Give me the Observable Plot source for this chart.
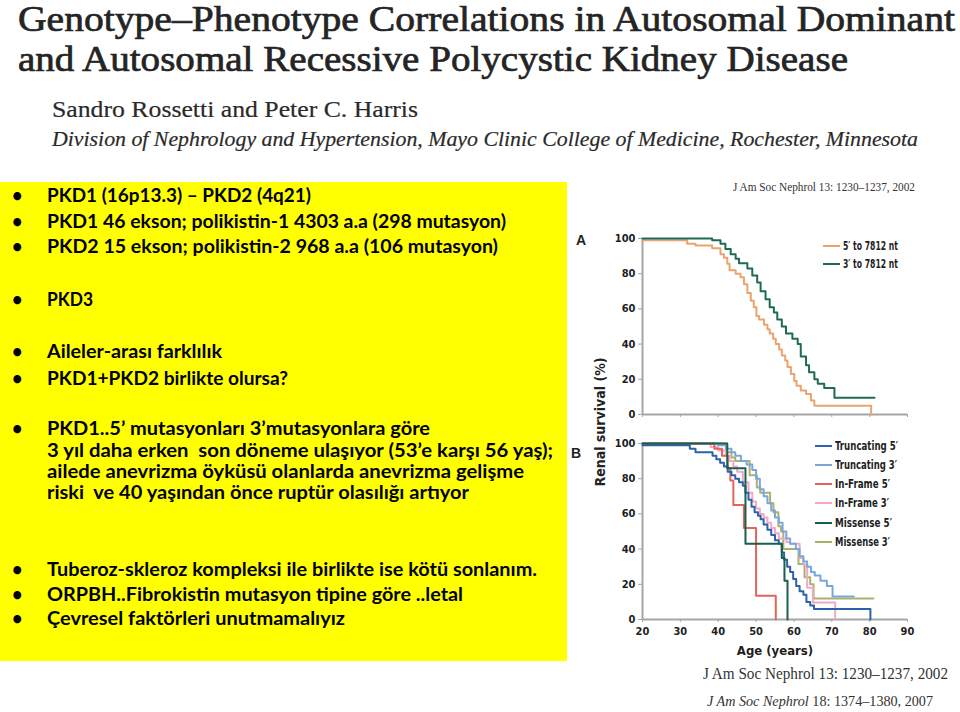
<!DOCTYPE html>
<html>
<head>
<meta charset="utf-8">
<script src="https://cdn.jsdelivr.net/npm/d3@7"></script>
<script src="https://cdn.jsdelivr.net/npm/@observablehq/plot@0.6"></script>
<style>
  body { margin: 0; background: #fff; }
  #page { position: relative; width: 960px; height: 712px; overflow: hidden; background: #fff; }
  .abs { position: absolute; white-space: nowrap; transform-origin: 0 0; }
  .plotbox { position: absolute; }
  .legrow { position: absolute; white-space: nowrap; font-family: "Liberation Sans Narrow", "DejaVu Sans Condensed", "Liberation Sans", sans-serif; font-weight: bold; font-size: 12px; color: #1e1e1e; }
  .legline { position: absolute; height: 2px; }
  #plotB g[aria-label="x-axis label"] text { font-size: 13px; }
</style>
</head>
<body>
<div id="page"></div>
<script>
// ---------------- data ----------------
const titleLines = ["Genotype–Phenotype Correlations in Autosomal Dominant", "and Autosomal Recessive Polycystic Kidney Disease"];
const authors = "Sandro Rossetti and Peter C. Harris";
const affiliation = "Division of Nephrology and Hypertension, Mayo Clinic College of Medicine, Rochester, Minnesota";
const bulletItems = [
  ["PKD1 (16p13.3) – PKD2 (4q21)"],
  ["PKD1 46 ekson; polikistin-1 4303 a.a (298 mutasyon)"],
  ["PKD2 15 ekson; polikistin-2 968 a.a (106 mutasyon)"],
  ["PKD3"],
  ["Aileler-arası farklılık"],
  ["PKD1+PKD2 birlikte olursa?"],
  ["PKD1..5’ mutasyonları 3’mutasyonlara göre",
   "3 yıl daha erken  son döneme ulaşıyor (53’e karşı 56 yaş);",
   "ailede anevrizma öyküsü olanlarda anevrizma gelişme",
   "riski  ve 40 yaşından önce ruptür olasılığı artıyor"],
  ["Tuberoz-skleroz kompleksi ile birlikte ise kötü sonlanım."],
  ["ORPBH..Fibrokistin mutasyon tipine göre ..letal"],
  ["Çevresel faktörleri unutmamalıyız"]
];
const citeTop = "J Am Soc Nephrol 13: 1230–1237, 2002";
const citeBottom1 = "J Am Soc Nephrol 13: 1230–1237, 2002";
const citeBottom2Journal = "J Am Soc Nephrol";
const citeBottom2Rest = " 18: 1374–1380, 2007";
const yLabel = "Renal survival (%)";
const xLabel = "Age (years)";
const panelLabels = ["A", "B"];
const xTicks = [20, 30, 40, 50, 60, 70, 80, 90];
const yTicks = [0, 20, 40, 60, 80, 100];

// Panel A: Kaplan–Meier renal survival by mutation position
const seriesANames = ["5′ to 7812 nt", "3′ to 7812 nt"];
const a5prime = [[20,99],[31.8,97],[34,96],[38.4,94.5],[40.6,91],[41.5,89],[42.4,85.6],[43,82],[44.6,80],[45.9,78],[46.8,74],[47.7,69],[48.6,64.6],[49.4,61],[50.1,56],[50.8,54],[52.1,51],[53,48.5],[53.6,46],[54.5,43],[55.2,40],[56.1,37],[56.8,33.5],[57.7,30.7],[58.3,27],[59.2,23],[60.1,19],[60.7,16.4],[61.8,13.6],[63.2,11.7],[64.5,8],[65.4,5],[80.4,0]];
const a3prime = [[20,100],[38.4,99],[40.6,97],[41.9,94],[43.3,91],[44.6,88.5],[45.5,86],[47.7,83],[49,79],[50.3,75],[51.2,70],[52.5,65.5],[53.6,61],[54.7,58],[55.6,54],[56.8,50],[57.9,46],[59.6,43],[61,40],[61.8,33],[63.2,28],[64,24],[65.4,20],[66.3,17.5],[68,15],[70.7,9.5],[81.3,9.5]];

// Panel B: by mutation type and position
const seriesBNames = ["Truncating 5′", "Truncating 3′", "In-Frame 5′", "In-Frame 3′", "Missense 5′", "Missense 3′"];
const truncating5 = [[20,99],[32.5,97],[34,95],[38.5,93],[39.5,91],[40.5,89],[41.5,87],[42.5,84],[43.5,82],[44.5,80],[45.5,78],[46.5,76],[47.2,72],[48,68],[48.8,64],[49.6,61],[50.5,59],[51.2,57],[52,54],[53,51],[54,48],[55,45],[56,43],[56.8,38],[57.4,34],[58.2,30],[59,27],[59.8,23],[60.6,19],[61.5,16],[62.5,14],[63.3,10],[64.3,8],[65.3,6],[80.2,0]];
const truncating3 = [[20,100],[40,99],[42,97],[43.5,95],[44.5,93],[46,90],[47.5,88],[49,85],[50,80],[51,74],[52,70],[53,66],[54,62],[55,58],[56,55],[57,50],[58,46],[59,43],[60.5,40],[61.5,36],[62.5,33],[63.5,30],[64.5,27],[65.5,25],[67,22],[68.7,19],[70.2,13],[75.8,13]];
const inframe5 = [[20,100],[39,97],[41,93],[42.5,86],[43.2,79],[44,65],[46.8,52],[50,13.5],[55.2,0]];
const inframe3 = [[20,100],[38,98],[40,96],[42,93],[43,90],[44,87],[45,84],[46.5,78],[48,72],[49,67],[50,63],[51,60],[52,58],[53,55],[54,52],[55,49],[56,46],[58,44],[59,43],[61.5,35],[62.5,31],[63.5,18],[65,9.7],[70.9,0]];
const missense5 = [[20,100],[42.4,86],[47.2,43],[56.8,35],[57.5,22],[58.3,0]];
const missense3 = [[20,100],[42.3,95],[43.5,92],[44.5,90],[48.3,82],[50.2,75],[51.1,72],[53.7,66],[54.6,61],[55.9,53],[56.6,50],[57.2,40],[61.2,31.5],[62.8,24],[64.3,20],[65.2,12],[81,12]];

// ---------------- styles / layout ----------------
const colorsA = ["#E9A46F", "#1D6B56"];
const colorsB = ["#2E62A8", "#78A8DA", "#E2645A", "#F2A8C8", "#17604C", "#ADAF6C"];
const drawOrderB = [5, 3, 1, 2, 0, 4];
const axisColor = "#a5a5a5";
const chartFont = '"Liberation Sans Narrow", "DejaVu Sans Condensed", "Liberation Sans", Arial, sans-serif';
const sansFont = '"Liberation Sans", Arial, sans-serif';
const serif = '"Liberation Serif", "DejaVu Serif", serif';
const slideFont = 'Lato, "Open Sans", "Liberation Sans", sans-serif';

const page = document.getElementById("page");

function place(html, o) {
  const d = document.createElement("div");
  d.className = "abs";
  d.innerHTML = html;
  Object.assign(d.style, {
    left: o.x + "px", top: (o.y - o.size / 2) + "px",
    fontSize: o.size + "px", lineHeight: o.size + "px",
    fontFamily: o.font, fontWeight: o.weight || "normal",
    fontStyle: o.style || "normal", color: o.color || "#000"
  });
  if (o.stroke) d.style.webkitTextStroke = o.stroke;
  page.appendChild(d);
  if (o.w) {
    const w = d.getBoundingClientRect().width;
    d.style.transform = `scaleX(${o.w / w})`;
  }
  return d;
}

// Title block
const titleLayout = [{x: 18, y: 19, w: 937}, {x: 18, y: 59, w: 830}];
titleLines.forEach((t, i) => place(t, {...titleLayout[i], size: 36, font: serif, color: "#242424", stroke: "0.7px #242424"}));
place(authors, {x: 52, y: 109, w: 366, size: 24, font: serif, color: "#2a2a2a", stroke: "0.2px #2a2a2a"});
place(affiliation, {x: 52, y: 139, w: 866, size: 22, font: serif, style: "italic", color: "#2a2a2a", stroke: "0.2px #2a2a2a"});

// Yellow text box
const box = document.createElement("div");
Object.assign(box.style, {position: "absolute", left: "0px", top: "182px", width: "567px", height: "479px", background: "#FFFF00"});
page.appendChild(box);

const bulletLayout = [
  [{y: 195, w: 264}],
  [{y: 221, w: 459}],
  [{y: 246, w: 451}],
  [{y: 299, w: 46}],
  [{y: 351, w: 175}],
  [{y: 378, w: 241}],
  [{y: 428, w: 383}, {y: 450, w: 506}, {y: 471, w: 477}, {y: 492, w: 422}],
  [{y: 569, w: 490}],
  [{y: 594, w: 416}],
  [{y: 618, w: 298}]
];
bulletItems.forEach((lines, i) => {
  place("•", {x: 12, y: bulletLayout[i][0].y, size: 18, font: slideFont, weight: "bold", color: "#000"});
  lines.forEach((ln, j) => place(ln.replace(/  /g, "&nbsp; "), {x: 47, ...bulletLayout[i][j], size: 18.5, font: slideFont, weight: "bold", color: "#000"}));
});

// Citations
place(citeTop, {x: 733, y: 187, w: 182, size: 12, font: serif, color: "#333"});
place(citeBottom1, {x: 703, y: 674, w: 245, size: 16, font: serif, color: "#333"});
place(`<i>${citeBottom2Journal}</i>${citeBottom2Rest}`, {x: 707, y: 702, w: 226, size: 14, font: serif, color: "#333"});

// Panel letters & shared y label
place(panelLabels[0], {x: 576, y: 240, size: 14, font: sansFont, weight: "bold", color: "#222"});
place(panelLabels[1], {x: 571, y: 453, size: 14, font: sansFont, weight: "bold", color: "#222"});
const yl = document.createElement("div");
yl.className = "abs";
yl.textContent = yLabel;
Object.assign(yl.style, {fontFamily: chartFont, fontWeight: "bold", fontSize: "14px", lineHeight: "14px", color: "#222", left: "600px", top: "422px", transformOrigin: "50% 50%"});
page.appendChild(yl);
{
  const w = yl.getBoundingClientRect().width;
  yl.style.transform = `translate(-50%,-50%) rotate(-90deg) scaleX(${129 / w})`;
}

// ---------------- charts ----------------
function survivalPlot(series, opts) {
  return Plot.plot({
    width: 330, height: opts.height,
    marginLeft: 42, marginRight: 23, marginTop: 10, marginBottom: opts.marginBottom,
    x: {domain: [20, 90]},
    y: {domain: [0, 100]},
    style: {fontFamily: chartFont, fontSize: "11px", fontWeight: "bold", color: "#1e1e1e", background: "transparent", overflow: "visible"},
    marks: [
      Plot.ruleX([20], {stroke: axisColor, strokeWidth: 2}),
      Plot.ruleY([0], {stroke: axisColor, strokeWidth: 2}),
      Plot.axisY({ticks: yTicks, tickSize: 4, tickPadding: 3, stroke: axisColor, label: null}),
      Plot.axisX({ticks: xTicks, tickSize: 3, tickPadding: 5, stroke: axisColor,
        tickFormat: opts.showX ? (d => String(d)) : (() => ""),
        label: opts.xLabel || null, labelAnchor: "center", labelOffset: 35, labelArrow: "none"}),
      ...series.map(s => Plot.line(s.values, {x: d => d[0], y: d => d[1], curve: "step-after", stroke: s.color, strokeWidth: 2}))
    ]
  });
}

function addPlot(id, left, top, chart) {
  const div = document.createElement("div");
  div.className = "plotbox";
  div.id = id;
  div.style.left = left + "px";
  div.style.top = top + "px";
  div.appendChild(chart);
  page.appendChild(div);
}

const seriesA = [a5prime, a3prime].map((v, i) => ({name: seriesANames[i], values: v, color: colorsA[i]}));
const allB = [truncating5, truncating3, inframe5, inframe3, missense5, missense3].map((v, i) => ({name: seriesBNames[i], values: v, color: colorsB[i]}));
const seriesB = drawOrderB.map(i => allB[i]);

addPlot("plotA", 600, 228, survivalPlot(seriesA, {height: 200, marginBottom: 14, showX: false}));
addPlot("plotB", 600, 433, survivalPlot(seriesB, {height: 230, marginBottom: 44, showX: true, xLabel: xLabel}));

// Legends (line swatches)
function legend(items, x, ys, textW) {
  items.forEach((it, i) => {
    const ln = document.createElement("div");
    ln.className = "legline";
    Object.assign(ln.style, {left: x + "px", top: (ys[i] - 1) + "px", width: "17px", background: it.color});
    page.appendChild(ln);
    const t = document.createElement("div");
    t.className = "legrow";
    t.textContent = it.name;
    Object.assign(t.style, {left: (x + 20) + "px", top: (ys[i] - 7) + "px", lineHeight: "14px", transformOrigin: "0 50%"});
    page.appendChild(t);
    const w = t.getBoundingClientRect().width;
    t.style.transform = `scaleX(${textW[i] / w})`;
  });
}
legend(seriesA, 823, [246, 264], [55, 55]);
legend(allB, 815, [446, 465, 484, 503, 523, 542], [63, 62, 55, 54, 57, 55]);
</script>
</body>
</html>
